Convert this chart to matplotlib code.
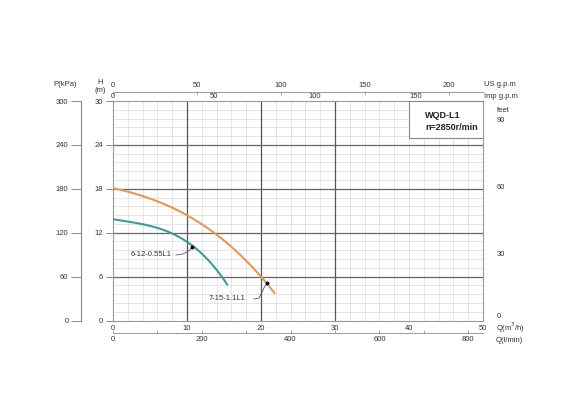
import matplotlib
matplotlib.use("Agg")
import matplotlib.pyplot as plt
from matplotlib.patches import Rectangle
import numpy as np

plt.rcParams['font.family'] = ['Liberation Sans', 'DejaVu Sans']

# ---- data ----
q_a = [0, 2, 4, 6, 8, 10, 12, 14, 15.5]
h_a = [13.8, 13.6, 13.2, 12.6, 11.8, 10.8, 9.2, 6.9, 4.8]
label_a = "6-12-0.55L1"
mark_a = (10.7, 10.1)

q_b = [0, 2, 4, 6, 8, 10, 12, 14, 16, 18, 20, 21.9]
h_b = [18.0, 17.7, 17.1, 16.3, 15.4, 14.3, 13.1, 11.7, 10.1, 8.3, 6.0, 3.6]
label_b = "7-15-1.1L1"
mark_b = (20.8, 5.1)

q_ticks = [0, 10, 20, 30, 40, 50]
h_ticks = [0, 6, 12, 18, 24, 30]
kpa_ticks = [0, 60, 120, 180, 240, 300]
feet_ticks = [0, 30, 60, 90]
us_ticks = [0, 50, 100, 150, 200]
imp_ticks = [0, 50, 100, 150]
lmin_ticks = [0, 200, 400, 600, 800]
title1 = "WQD-L1"
title2 = "n=2850r/min"

teal = "#3a9e9a"
orange = "#e49a55"
fs = 5.5
tc = "#333333"

fig = plt.figure(figsize=(5.7, 4.09), dpi=100)
W, H = 570, 409
x0, x1, ytop, ybot = 113, 483, 101, 320.5
ax = fig.add_axes([x0 / W, (H - ybot) / H, (x1 - x0) / W, (ybot - ytop) / H])
ax.set_xlim(0, 50)
ax.set_ylim(0, 30)

# grid
for q in np.arange(0, 50.01, 2):
    ax.axvline(q, color="#e0e0e0", lw=0.6, zorder=0)
for h in np.arange(0, 30.01, 1.2):
    ax.axhline(h, color="#e0e0e0", lw=0.6, zorder=0)
for q in [10, 20, 30]:
    ax.axvline(q, color="#555555", lw=0.9, zorder=1)
for h in [6, 12, 18, 24]:
    ax.axhline(h, color="#666666", lw=0.9, zorder=1)

for s in ax.spines.values():
    s.set_color("#999999")
    s.set_linewidth(0.8)

# smooth curves through the read points
def smooth(qs, hs):
    c = np.polyfit(qs, hs, 3)
    xx = np.linspace(qs[0], qs[-1], 200)
    return xx, np.polyval(c, xx)

ax.plot(*smooth(q_a, h_a), color=teal, lw=1.5, zorder=3, solid_capstyle='butt')
ax.plot(*smooth(q_b, h_b), color=orange, lw=1.5, zorder=3, solid_capstyle='butt')
ax.plot(*mark_a, 'o', color='black', ms=1.8, zorder=4)
ax.plot(*mark_b, 'o', color='black', ms=1.8, zorder=4)

# annotations with leader lines
def px2d(xp, yp):
    return (xp - x0) / (x1 - x0) * 50, (ybot - yp) / (ybot - ytop) * 30

lx, ly = zip(*[px2d(176, 255), px2d(183, 254), px2d(189.5, 250.5)])
ax.plot(list(lx) + [mark_a[0]], list(ly) + [mark_a[1]], color="#555555", lw=0.6, zorder=3)
tx, ty = px2d(151, 254)
ax.text(tx, ty, label_a, fontsize=fs, color=tc, ha='center', va='center')

lx, ly = zip(*[px2d(254, 299), px2d(259, 298), px2d(264, 288)])
ax.plot(list(lx) + [mark_b[0]], list(ly) + [mark_b[1]], color="#555555", lw=0.6, zorder=3)
tx, ty = px2d(227, 299)
ax.text(tx, ty, label_b, fontsize=fs, color=tc, ha='center', va='center')

# title box
ax.add_patch(Rectangle((0.8, 0.832), 0.2, 0.168, transform=ax.transAxes,
                       fill=True, facecolor='white', edgecolor='#888888', lw=0.8, zorder=5))
ax.text(0.843, 0.935, title1, transform=ax.transAxes, fontsize=6.5, fontweight='bold',
        color='#222222', va='center', zorder=6)
ax.text(0.843, 0.878, title2, transform=ax.transAxes, fontsize=6.5, fontweight='bold',
        color='#222222', va='center', zorder=6)

# main axes ticks
ax.set_xticks(q_ticks)
ax.set_xticklabels([str(v) for v in q_ticks])
ax.set_yticks(h_ticks)
ax.set_yticklabels([str(v) for v in h_ticks])
ax.tick_params(axis='x', length=0, pad=3, labelsize=fs, labelcolor=tc)
ax.tick_params(axis='y', length=5, width=0.6, color="#777777", pad=2, labelsize=fs, labelcolor=tc)

# P(kPa) axis on left
pax = ax.secondary_yaxis(-(x0 - 81) / (x1 - x0), functions=(lambda h: h * 10, lambda p: p / 10))
pax.set_yticks(kpa_ticks)
pax.tick_params(length=7, width=0.6, color="#777777", pad=2, labelsize=fs, labelcolor=tc)
pax.spines['left'].set_color("#888888")
pax.spines['left'].set_linewidth(0.8)

# feet axis on right
fax = ax.secondary_yaxis(1.0, functions=(lambda h: h * 3.2808, lambda f: f / 3.2808))
fax.set_yticks(feet_ticks)
fax.set_yticklabels(["", "30", "60", "90"])
fax.tick_params(length=0, pad=10, labelsize=fs, labelcolor=tc)
fax.spines['right'].set_visible(False)

# Imp gpm axis on top
iax = ax.secondary_xaxis(1.0, functions=(lambda q: q * 3.6662, lambda g: g / 3.6662))
iax.set_xticks(imp_ticks)
iax.tick_params(length=0, pad=1, labelsize=fs, labelcolor=tc)
iax.spines['top'].set_visible(False)

# US gpm axis above
uax = ax.secondary_xaxis(1 + (ytop - 92) / (ybot - ytop), functions=(lambda q: q * 4.4029, lambda g: g / 4.4029))
uax.set_xticks(us_ticks)
uax.tick_params(length=2, width=0.5, direction='in', color="#888888", pad=2, labelsize=fs, labelcolor=tc)
uax.spines['top'].set_color("#999999")
uax.spines['top'].set_linewidth(0.7)

# l/min axis below
lax = ax.secondary_xaxis(-(333 - ybot) / (ybot - ytop), functions=(lambda q: q * 16.667, lambda l: l / 16.667))
lax.set_xticks(lmin_ticks)
lax.set_xticks(np.arange(0, 801, 100), minor=True)
lax.tick_params(which='both', length=2, width=0.5, direction='in', color="#888888", pad=2,
                labelsize=fs, labelcolor=tc)
lax.spines['bottom'].set_color("#999999")
lax.spines['bottom'].set_linewidth(0.7)

# axis titles
def ftext(xp, yp, s, ha='left'):
    fig.text(xp / W, 1 - yp / H, s, fontsize=fs, color=tc, ha=ha, va='center')

ftext(65, 85, "P(kPa)", ha='center')
ftext(100, 83, "H", ha='center')
ftext(100, 91, "(m)", ha='center')
ftext(484, 84, "US g.p.m")
ftext(484, 97, "Imp g.p.m")
ftext(497, 110, "feet")
ftext(497, 317, "0")
ftext(496, 328, "Q(m$^3$/h)")
ftext(496, 341, "Q(l/min)")

fig.savefig("out.png", dpi=100, facecolor='white')
